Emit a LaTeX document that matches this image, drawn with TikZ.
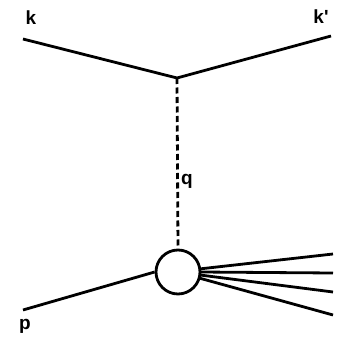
\documentclass[tikz,border=0pt]{standalone}
\usepackage{fontspec}
\setmainfont{Liberation Sans}
\begin{document}
\begin{tikzpicture}[x=1pt,y=-1pt,
  line/.style={line width=2.8pt},
  prop/.style={line width=2.8pt, dash pattern=on 6pt off 3.5pt},
  lbl/.style={font=\fontsize{19}{19}\selectfont\bfseries, inner sep=0pt}]
\useasboundingbox (0,0) rectangle (343,342);
\coordinate (kin) at (23,39);
\coordinate (v) at (177,78);
\coordinate (kout) at (331,36);
\node[circle, draw, line width=2.8pt, minimum size=44pt, inner sep=0pt] (blob) at (178,272) {};
\coordinate (pin) at (23,310);
\coordinate (x1) at (333,254);
\coordinate (x2) at (333,273);
\coordinate (x3) at (333,292);
\coordinate (x4) at (333,315);
\coordinate (s1) at (199,269);
\coordinate (s2) at (200,272);
\coordinate (s3) at (200,275);
\coordinate (s4) at (199,278);
\draw[line] (kin) -- (v) -- (kout);
\draw[prop] (v) -- (blob.north);
\draw[line] (pin) -- (blob.west);
\draw[line] (s1) -- (x1);
\draw[line] (s2) -- (x2);
\draw[line] (s3) -- (x3);
\draw[line] (s4) -- (x4);
\node[lbl] (k) at (31,18) {k};
\node[lbl] (kp) at (321,17) {k\textquotesingle};
\node[lbl] (q) at (187,181) {q};
\node[lbl] (p) at (25,326) {p};
\end{tikzpicture}
\end{document}
